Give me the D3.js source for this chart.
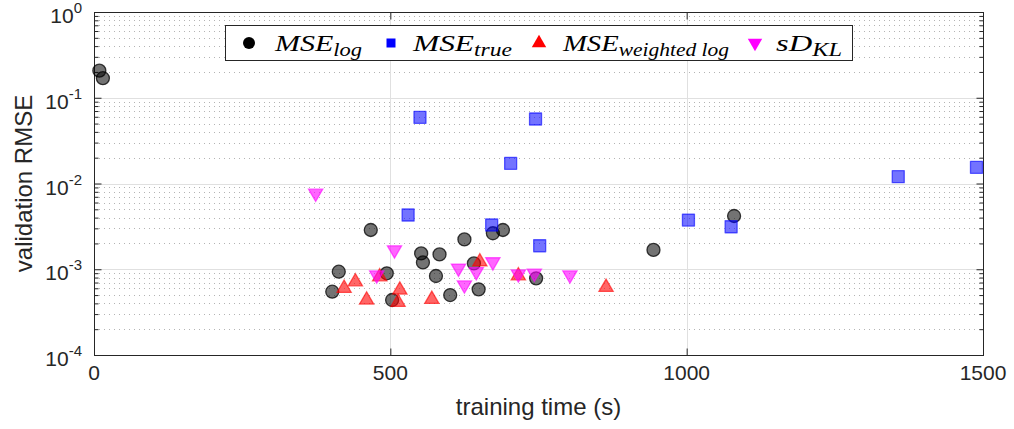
<!DOCTYPE html>
<html>
<head>
<meta charset="utf-8">
<script src="https://cdn.jsdelivr.net/npm/d3@7"></script>
<style>
  html, body { margin: 0; padding: 0; background: #fff; }
  svg { display: block; }
  .tick-label { font-family: "Liberation Sans", Arial, Helvetica, sans-serif; fill: #262626; }
  .axis-title { font-family: "Liberation Sans", Arial, Helvetica, sans-serif; fill: #262626; }
  .leg { font-family: "Liberation Serif", "Times New Roman", serif; font-style: italic; fill: #000; }
</style>
</head>
<body>
<svg id="chart" width="1014" height="429"></svg>
<script>
// ---- data ----
const mseLogTime = [9, 15, 402, 413, 467, 494, 503, 552, 555, 577, 583, 601, 625, 641, 649, 673, 690, 746, 944, 1080];
const mseLogRmse = [0.207, 0.169, 5.47e-4, 9.36e-4, 2.87e-3, 8.97e-4, 4.38e-4, 1.53e-3, 1.20e-3, 8.34e-4, 1.49e-3, 5.0e-4, 2.23e-3, 1.17e-3, 5.83e-4, 2.63e-3, 2.87e-3, 7.83e-4, 1.68e-3, 4.18e-3];

const mseTrueTime = [530, 550, 671, 703, 745, 752, 1003, 1075, 1357, 1489];
const mseTrueRmse = [4.29e-3, 0.0591, 3.28e-3, 0.0172, 0.0565, 1.88e-3, 3.75e-3, 3.13e-3, 0.0120, 0.01545];

const mseWLogTime = [422, 441, 460, 482, 513, 516, 570, 651, 716, 864];
const mseWLogRmse = [6.0e-4, 7.16e-4, 4.38e-4, 8.19e-4, 4.12e-4, 5.73e-4, 4.46e-4, 1.22e-3, 8.41e-4, 6.16e-4];

const sdklTime = [374, 477, 507, 615, 625, 645, 673, 716, 743, 803];
const sdklRmse = [7.69e-3, 8.57e-4, 1.68e-3, 1.03e-3, 6.55e-4, 9.36e-4, 1.22e-3, 8.8e-4, 8.97e-4, 8.57e-4];

const xTicks = [0, 500, 1000, 1500];
const yTickExps = [-4, -3, -2, -1, 0];
const xTitle = "training time (s)";
const yTitle = "validation RMSE";

// ---- layout ----
const svg = d3.select("#chart");
const L = 94, R = 983, T = 12, B = 355;
const x = d3.scaleLinear().domain([0, 1500]).range([L, R]);
const y = d3.scaleLog().domain([1e-4, 1]).range([B, T]);
const axisColor = "#262626";

// grid: minor dotted
const minorVals = [];
yTickExps.slice(0, -1).forEach(e => { for (let k = 2; k <= 9; k++) minorVals.push(k * Math.pow(10, e)); });
const grid = svg.append("g");
grid.selectAll("line.minor").data(minorVals).join("line")
  .attr("x1", L).attr("x2", R)
  .attr("y1", d => Math.round(y(d)) + 0.5).attr("y2", d => Math.round(y(d)) + 0.5)
  .attr("stroke", "#b4b4b4").attr("stroke-width", 1).attr("stroke-dasharray", "1,4");
// major grid
grid.selectAll("line.hmaj").data(yTickExps.map(e => Math.pow(10, e))).join("line")
  .attr("x1", L).attr("x2", R)
  .attr("y1", d => Math.round(y(d)) + 0.5).attr("y2", d => Math.round(y(d)) + 0.5)
  .attr("stroke", "#e0e0e0").attr("stroke-width", 1);
svg.append("g").selectAll("line").data(xTicks).join("line")
  .attr("x1", d => Math.round(x(d)) + 0.5).attr("x2", d => Math.round(x(d)) + 0.5)
  .attr("y1", T).attr("y2", B)
  .attr("stroke", "#e0e0e0").attr("stroke-width", 1);

// axes via d3 axis generators (inward ticks)
const yAxisL = d3.axisRight(y).tickValues(yTickExps.map(e => Math.pow(10, e))).tickSize(7).tickFormat("");
const yAxisR = d3.axisLeft(y).tickValues(yTickExps.map(e => Math.pow(10, e))).tickSize(7).tickFormat("");
const yMinorL = d3.axisRight(y).tickValues(minorVals).tickSize(4).tickFormat("");
const yMinorR = d3.axisLeft(y).tickValues(minorVals).tickSize(4).tickFormat("");
const xAxisB = d3.axisTop(x).tickValues(xTicks).tickSize(7).tickFormat("");
const xAxisT = d3.axisBottom(x).tickValues(xTicks).tickSize(7).tickFormat("");

function styleAxis(g) {
  g.selectAll("path").remove();
  g.selectAll("line").attr("stroke", axisColor);
}
svg.append("g").attr("transform", `translate(${L + 0.5},0)`).call(yAxisL).call(styleAxis);
svg.append("g").attr("transform", `translate(${L + 0.5},0)`).call(yMinorL).call(styleAxis);
svg.append("g").attr("transform", `translate(${R + 0.5},0)`).call(yAxisR).call(styleAxis);
svg.append("g").attr("transform", `translate(${R + 0.5},0)`).call(yMinorR).call(styleAxis);
svg.append("g").attr("transform", `translate(0,${B + 0.5})`).call(xAxisB).call(styleAxis);
svg.append("g").attr("transform", `translate(0,${T + 0.5})`).call(xAxisT).call(styleAxis);
// frame
svg.append("rect").attr("x", L + 0.5).attr("y", T + 0.5).attr("width", R - L).attr("height", B - T)
  .attr("fill", "none").attr("stroke", axisColor).attr("stroke-width", 1);

// tick labels
svg.append("g").selectAll("text").data(xTicks).join("text")
  .attr("class", "tick-label").attr("x", d => x(d)).attr("y", B + 25)
  .attr("text-anchor", "middle").attr("font-size", 21).text(d => d);
const yl = svg.append("g").selectAll("text").data(yTickExps).join("text")
  .attr("class", "tick-label").attr("x", 82).attr("y", d => y(Math.pow(10, d)) + 11)
  .attr("text-anchor", "end").attr("font-size", 21);
yl.append("tspan").text("10");
yl.append("tspan").attr("font-size", 15).attr("dy", -10).text(d => d === 0 ? "0" : "-" + Math.abs(d));

// axis titles
svg.append("text").attr("class", "axis-title").attr("x", (L + R) / 2).attr("y", 415)
  .attr("text-anchor", "middle").attr("font-size", 24).text(xTitle);
svg.append("text").attr("class", "axis-title")
  .attr("transform", `translate(32,${(T + B) / 2}) rotate(-90)`)
  .attr("text-anchor", "middle").attr("font-size", 24).text(yTitle);

// markers
const plot = svg.append("g");
const circ = d3.symbol().type(d3.symbolCircle).size(Math.PI * 6.5 * 6.5);
const sq = d3.symbol().type(d3.symbolSquare).size(12 * 12);
const tri = d3.symbol().type(d3.symbolTriangle).size(88);

function zip(a, b) { return a.map((v, i) => [v, b[i]]); }

plot.append("g").selectAll("path").data(zip(mseLogTime, mseLogRmse)).join("path")
  .attr("d", circ).attr("transform", d => `translate(${x(d[0])},${y(d[1])})`)
  .attr("fill", "#000").attr("fill-opacity", 0.55)
  .attr("stroke", "#000").attr("stroke-opacity", 0.75).attr("stroke-width", 1.3);
plot.append("g").selectAll("path").data(zip(mseTrueTime, mseTrueRmse)).join("path")
  .attr("d", sq).attr("transform", d => `translate(${x(d[0])},${y(d[1])})`)
  .attr("fill", "#0000ff").attr("fill-opacity", 0.55)
  .attr("stroke", "#0000ff").attr("stroke-opacity", 0.6).attr("stroke-width", 1.3).attr("stroke-linejoin", "round");
plot.append("g").selectAll("path").data(zip(mseWLogTime, mseWLogRmse)).join("path")
  .attr("d", tri).attr("transform", d => `translate(${x(d[0])},${y(d[1])})`)
  .attr("fill", "#ff0000").attr("fill-opacity", 0.6)
  .attr("stroke", "#ff0000").attr("stroke-opacity", 0.6).attr("stroke-width", 1.3);
plot.append("g").selectAll("path").data(zip(sdklTime, sdklRmse)).join("path")
  .attr("d", tri).attr("transform", d => `translate(${x(d[0])},${y(d[1])}) rotate(180)`)
  .attr("fill", "#ff00ff").attr("fill-opacity", 0.6)
  .attr("stroke", "#ff00ff").attr("stroke-opacity", 0.6).attr("stroke-width", 1.3);

// legend
const lg = svg.append("g");
lg.append("rect").attr("x", 225.5).attr("y", 25.5).attr("width", 627).attr("height", 35)
  .attr("fill", "#fff").attr("stroke", axisColor).attr("stroke-width", 1);
const ly = 43;
const legendItems = [
  { sym: d3.symbol().type(d3.symbolCircle).size(Math.PI * 36), color: "#000", rot: 0, ix: 249, tx: 275, w: 87, main: "MSE", sub: "log" },
  { sym: d3.symbol().type(d3.symbolSquare).size(81), color: "#0000ff", rot: 0, ix: 391, tx: 413, w: 99, main: "MSE", sub: "true" },
  { sym: d3.symbol().type(d3.symbolTriangle).size(90), color: "#ff0000", rot: 0, ix: 539, tx: 563, w: 166, main: "MSE", sub: "weighted log" },
  { sym: d3.symbol().type(d3.symbolTriangle).size(90), color: "#ff00ff", rot: 180, ix: 755, tx: 776, w: 66, main: "sD", sub: "KL" }
];
legendItems.forEach(it => {
  lg.append("path").attr("d", it.sym).attr("transform", `translate(${it.ix},${ly}) rotate(${it.rot})`)
    .attr("fill", it.color);
  const t = lg.append("text").attr("class", "leg").attr("x", it.tx).attr("y", ly + 8).attr("font-size", 24)
    .attr("textLength", it.w).attr("lengthAdjust", "spacingAndGlyphs");
  t.append("tspan").text(it.main);
  t.append("tspan").attr("font-size", 18).attr("dy", 5).text(it.sub);
});
</script>
</body>
</html>
